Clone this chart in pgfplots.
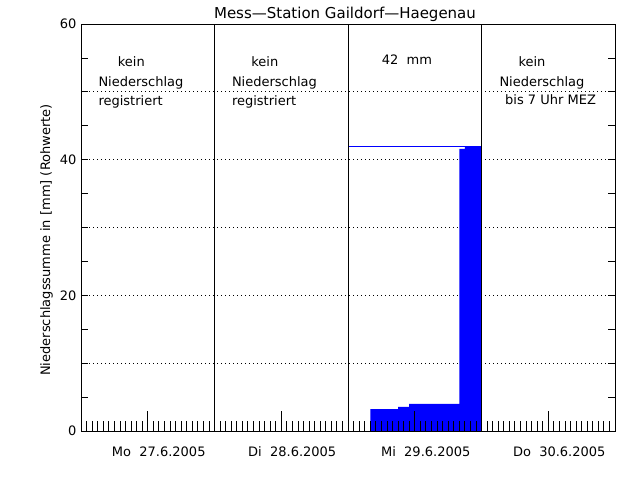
\documentclass[border=0pt]{standalone}
\usepackage{fontspec}
\setmainfont{DejaVu Sans}
\usepackage{pgfplots}
\pgfplotsset{compat=1.18}
\begin{document}
\fontsize{13bp}{15bp}\selectfont
\begin{tikzpicture}[x=1bp,y=1bp]
\path[use as bounding box, fill=white] (0,0) rectangle (640,480);
\begin{axis}[
  at={(81bp,49bp)}, anchor=south west,
  scale only axis, width=534bp, height=407bp,
  xmin=0, xmax=96, ymin=0, ymax=60,
  axis line style={black, line width=0.8bp},
  axis on top,
  xtick={12,36,60,84},
  xticklabels={Mo\ \ 27.6.2005, Di\ \ 28.6.2005, Mi\ \ 29.6.2005, Do\ \ 30.6.2005},
  minor xtick={0,1,...,96},
  xtick pos=left,
  ytick={0,10,...,60},
  yticklabels={0,,20,,40,,60},
  minor ytick={5,15,...,55},
  ytick pos=both,
  yticklabel pos=left,
  tick align=inside,
  xtick style={black, line width=0.8bp, /pgfplots/major tick length=20bp, /pgfplots/minor tick length=10bp},
  ytick style={black, line width=0.8bp, /pgfplots/major tick length=7bp, /pgfplots/minor tick length=7bp},
  xticklabel style={xshift=11bp, yshift=-11bp},
  every tick label/.append style={font=\fontsize{13bp}{15bp}\selectfont},
]
% dotted grid lines
\addplot[black, line width=0.8bp, dash pattern=on 1bp off 3bp, forget plot] coordinates {(0,10)(96,10)};
\addplot[black, line width=0.8bp, dash pattern=on 1bp off 3bp, forget plot] coordinates {(0,20)(96,20)};
\addplot[black, line width=0.8bp, dash pattern=on 1bp off 3bp, forget plot] coordinates {(0,30)(96,30)};
\addplot[black, line width=0.8bp, dash pattern=on 1bp off 3bp, forget plot] coordinates {(0,40)(96,40)};
\addplot[black, line width=0.8bp, dash pattern=on 1bp off 3bp, forget plot] coordinates {(0,50)(96,50)};
% cumulative precipitation (hourly steps) on 29.6.2005
\addplot[fill=blue, draw=none, const plot, forget plot] coordinates {(52,3.24)(57,3.54)(59,3.98)(68,41.6)(69,42)(72,42)} \closedcycle;
% total line
\addplot[blue, line width=1bp, forget plot] coordinates {(48,42)(69,42)};
% day dividers
\addplot[black, line width=0.8bp, forget plot] coordinates {(24,0)(24,60)};
\addplot[black, line width=0.8bp, forget plot] coordinates {(48,0)(48,60)};
\addplot[black, line width=0.8bp, forget plot] coordinates {(72,0)(72,60)};
\end{axis}
% title
\node[anchor=base, inner sep=0, font=\fontsize{15bp}{17bp}\selectfont] at (345,461.7) {Mess—Station Gaildorf—Haegenau};
% y label
\node[rotate=90, anchor=base, inner sep=0] at (50,240) {Niederschlagssumme in [mm] (Rohwerte)};
% annotations
\node[anchor=base west, inner sep=0] at (117.7,413.3) {kein};
\node[anchor=base west, inner sep=0] at (98.3,393.3) {Niederschlag};
\node[anchor=base west, inner sep=0] at (98.3,374) {registriert};
\node[anchor=base west, inner sep=0] at (251.2,413.3) {kein};
\node[anchor=base west, inner sep=0] at (231.8,393.3) {Niederschlag};
\node[anchor=base west, inner sep=0] at (231.8,374) {registriert};
\node[anchor=base west, inner sep=0] at (381.7,415) {42\ \ mm};
\node[anchor=base west, inner sep=0] at (518.3,413.3) {kein};
\node[anchor=base west, inner sep=0] at (499.3,393.3) {Niederschlag};
\node[anchor=base west, inner sep=0] at (505,375) {bis 7 Uhr MEZ};
\end{tikzpicture}
\end{document}
